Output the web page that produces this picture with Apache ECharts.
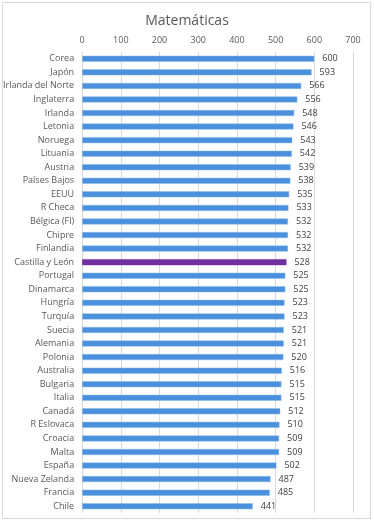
<!DOCTYPE html>
<html><head><meta charset="utf-8">
<script src="https://cdn.jsdelivr.net/npm/echarts@6/dist/echarts.min.js"></script>
<style>html,body{margin:0;padding:0;background:#fff}#c{width:374px;height:523px}</style>
</head><body><div id="c"></div>
<script>
const categories = ["Corea","Japón","Irlanda del Norte","Inglaterra","Irlanda","Letonia","Noruega","Lituania","Austria","Países Bajos","EEUU","R Checa","Bélgica (Fl)","Chipre","Finlandia","Castilla y León","Portugal","Dinamarca","Hungría","Turquía","Suecia","Alemania","Polonia","Australia","Bulgaria","Italia","Canadá","R Eslovaca","Croacia","Malta","España","Nueva Zelanda","Francia","Chile"];
const values = [600,593,566,556,548,546,543,542,539,538,535,533,532,532,532,528,525,525,523,523,521,521,520,516,515,515,512,510,509,509,502,487,485,441];
const highlight = "Castilla y León";
const ticks = [0,100,200,300,400,500,600,700];

const chart = echarts.init(document.getElementById('c'));
chart.setOption({
  animation:false,
  title:{text:'Matemáticas',left:'center',top:9,textStyle:{fontFamily:'Open Sans',fontSize:14,fontWeight:'normal',color:'#595959'}},
  graphic:[{type:'rect',shape:{x:2.5,y:2.5,width:368,height:516},style:{fill:'none',stroke:'#d9d9d9',lineWidth:1}}],
  grid:{left:79,right:21,top:52,bottom:10},
  xAxis:{type:'value',position:'top',min:ticks[0],max:ticks[ticks.length-1],interval:100,
    axisLine:{show:false},axisTick:{show:false},
    axisLabel:{fontFamily:'Open Sans',fontSize:9,color:'#595959',margin:7},
    splitLine:{lineStyle:{color:'#d9d9d9'}}},
  yAxis:{type:'category',inverse:true,data:categories,
    axisLine:{show:false},axisTick:{show:false},
    axisLabel:{fontFamily:'Open Sans',fontSize:9,color:'#595959',margin:8}},
  series:[{type:'bar',barWidth:6,
    data:values.map((v,i)=>({value:v,itemStyle:{color:categories[i]===highlight?'#7030a0':'#4a90dc',borderColor:categories[i]===highlight?'#7030a0':'#8dbbe8',borderWidth:0.5}})),
    label:{show:true,position:'right',distance:8,fontFamily:'Open Sans',fontSize:9,color:'#404040'}}]
});
</script></body></html>
